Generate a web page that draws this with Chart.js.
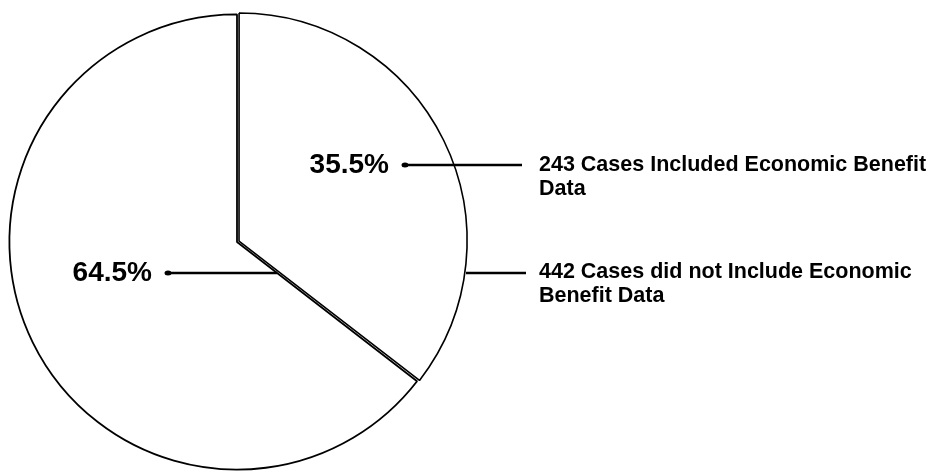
<!DOCTYPE html>
<html>
<head>
<meta charset="utf-8">
<script src="https://cdn.jsdelivr.net/npm/chart.js@4/dist/chart.umd.min.js"></script>
<style>
  html, body { margin: 0; padding: 0; background: #fff; }
  #wrap { width: 950px; height: 476px; position: relative; }
</style>
</head>
<body>
<div id="wrap"><canvas id="pie" width="950" height="476"></canvas></div>
<script>
// Share of cases with / without economic benefit data
const categories = [
  '243 Cases Included Economic Benefit Data',
  '442 Cases did not Include Economic Benefit Data'
];
const caseCounts = [243, 442];
const percentLabels = ['35.5%', '64.5%'];
const labelLines = [
  ['243 Cases Included Economic Benefit', 'Data'],
  ['442 Cases did not Include Economic', 'Benefit Data']
];

// Leader lines and callout text, drawn on top of the pie
const calloutPlugin = {
  id: 'callouts',
  afterDatasetsDraw(chart) {
    const ctx = chart.ctx;
    ctx.save();
    ctx.strokeStyle = '#000';
    ctx.fillStyle = '#000';
    ctx.lineWidth = 2.4;

    const leader = (x1, x2, y) => {
      ctx.beginPath();
      ctx.moveTo(x1, y);
      ctx.lineTo(x2, y);
      ctx.stroke();
      ctx.beginPath();
      ctx.ellipse(x1 + 2, y, 3.5, 2.5, 0, 0, Math.PI * 2);
      ctx.fill();
    };

    // percentage callouts
    ctx.font = 'bold 28px "Liberation Sans", Arial, sans-serif';
    ctx.textBaseline = 'middle';
    ctx.textAlign = 'right';
    ctx.fillText(percentLabels[0], 389, 165);
    ctx.fillText(percentLabels[1], 152, 273);
    leader(403, 522, 165);
    leader(166, 277, 273);

    // second leader for the lower category text
    ctx.beginPath();
    ctx.moveTo(466, 273);
    ctx.lineTo(526, 273);
    ctx.stroke();

    // category descriptions
    ctx.font = 'bold 21.5px "Liberation Sans", Arial, sans-serif';
    ctx.textAlign = 'left';
    ctx.fillText(labelLines[0][0], 539, 165);
    ctx.fillText(labelLines[0][1], 539, 189);
    ctx.fillText(labelLines[1][0], 539, 272);
    ctx.fillText(labelLines[1][1], 539, 296);
    ctx.restore();
  }
};

new Chart(document.getElementById('pie'), {
  type: 'pie',
  data: {
    labels: categories,
    datasets: [{
      data: caseCounts,
      backgroundColor: ['#ffffff', '#ffffff'],
      borderColor: '#000000',
      borderWidth: [1.6, 1.8],
      offset: [9, 0]
    }]
  },
  options: {
    responsive: false,
    animation: false,
    layout: { padding: { left: 4, top: 8, right: 480, bottom: 0 } },
    plugins: {
      legend: { display: false },
      tooltip: { enabled: false }
    }
  },
  plugins: [calloutPlugin]
});
</script>
</body>
</html>
